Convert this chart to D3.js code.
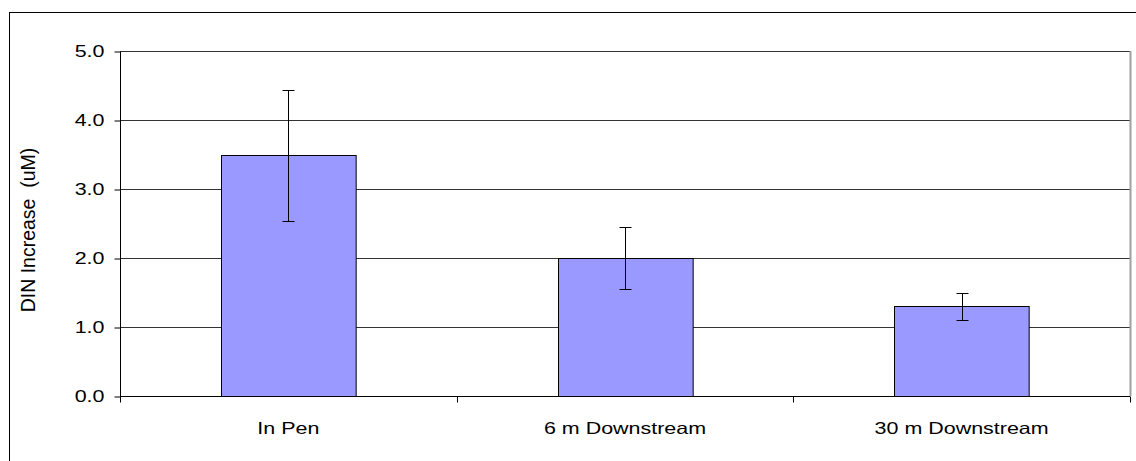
<!DOCTYPE html>
<html><head><meta charset="utf-8">
<script src="https://cdn.jsdelivr.net/npm/d3@7"></script>
<style>body{margin:0;background:#fff}svg{display:block}text{font-family:"Liberation Sans",Arial,sans-serif}</style>
</head><body><svg id="c" width="1136" height="461"></svg>
<script>
const categories = ["In Pen", "6 m Downstream", "30 m Downstream"];
const values = [3.49, 2.0, 1.3];
const errors = [0.95, 0.455, 0.2];
const yTicks = [0, 1, 2, 3, 4, 5];
const yLabel = "DIN Increase  (uM)";

const svg = d3.select("#c");
const L = 120, R = 1130, T = 51, B = 396;
const FS = 16.5, STRETCH = 1.3;
function stretch(sel) {
  sel.each(function () {
    const w = this.getComputedTextLength();
    d3.select(this).attr("textLength", w * STRETCH).attr("lengthAdjust", "spacingAndGlyphs");
  });
}
svg.append("rect").attr("x", 9.5).attr("y", 12.5).attr("width", 1140).attr("height", 460)
  .attr("fill", "#fff").attr("stroke", "#000").attr("stroke-width", 1);

const x = d3.scaleBand().domain(categories).range([L, R]).paddingInner(0.6).paddingOuter(0.3);
const xb = d3.scaleBand().domain(categories).range([L, R]);
const y = d3.scaleLinear().domain([0, 5]).range([B, T]);

// grid
svg.append("g").selectAll("line").data(yTicks.filter(d => d > 0)).join("line")
  .attr("x1", L).attr("x2", R).attr("y1", d => Math.round(y(d)) + 0.5).attr("y2", d => Math.round(y(d)) + 0.5)
  .attr("stroke", "#333").attr("stroke-width", 1);
// right frame
svg.append("line").attr("x1", R + 0.5).attr("x2", R + 0.5).attr("y1", T).attr("y2", B)
  .attr("stroke", "#a0a0a0").attr("stroke-width", 2);

// bars
svg.append("g").selectAll("rect").data(values).join("rect")
  .attr("x", (d, i) => Math.round(x(categories[i])) + 0.5)
  .attr("y", d => Math.round(y(d)) + 0.5)
  .attr("width", x.bandwidth())
  .attr("height", d => Math.round(y(0)) - Math.round(y(d)))
  .attr("fill", "#9999ff").attr("stroke", "#000").attr("stroke-width", 1);

// error bars
const eb = svg.append("g").attr("stroke", "#000").attr("stroke-width", 1);
values.forEach((v, i) => {
  const cx = Math.round(xb(categories[i]) + xb.bandwidth() / 2) + 0.5;
  const yt = Math.round(y(v + errors[i])) + 0.5, yb = Math.round(y(v - errors[i])) + 0.5;
  eb.append("line").attr("x1", cx).attr("x2", cx).attr("y1", yt).attr("y2", yb);
  eb.append("line").attr("x1", cx - 6).attr("x2", cx + 6).attr("y1", yt).attr("y2", yt);
  eb.append("line").attr("x1", cx - 6).attr("x2", cx + 6).attr("y1", yb).attr("y2", yb);
});

// y axis
const ya = svg.append("g").attr("transform", `translate(${L + 0.5},0.5)`)
  .call(d3.axisLeft(y).tickValues(yTicks).tickFormat(d3.format(".1f")).tickSize(6).tickPadding(10));
ya.selectAll("path,line").attr("stroke", "#000");
ya.selectAll("text").attr("font-size", FS).attr("fill", "#000").attr("font-family", "Liberation Sans, Arial, sans-serif").call(stretch);
ya.select(".domain").attr("d", `M0,${T}V${B}`);

// x axis
const xa = svg.append("g").attr("transform", `translate(0,${Math.round(B) + 0.5})`);
xa.append("line").attr("x1", L).attr("x2", R).attr("stroke", "#000");
xa.selectAll(".tk").data(d3.range(categories.length + 1)).join("line")
  .attr("x1", i => Math.round(L + i * xb.step()) + 0.5).attr("x2", i => Math.round(L + i * xb.step()) + 0.5)
  .attr("y1", 0).attr("y2", 6).attr("stroke", "#000");
xa.selectAll("text").data(categories).join("text")
  .attr("x", d => xb(d) + xb.bandwidth() / 2).attr("y", 37)
  .attr("text-anchor", "middle").attr("font-size", FS).attr("fill", "#000").text(d => d).call(stretch);

// y label
svg.append("text").attr("transform", `translate(35,${230}) rotate(-90)`)
  .attr("text-anchor", "middle").attr("font-size", 19.5).attr("fill", "#000")
  .style("white-space", "pre").text(yLabel);
</script></body></html>
